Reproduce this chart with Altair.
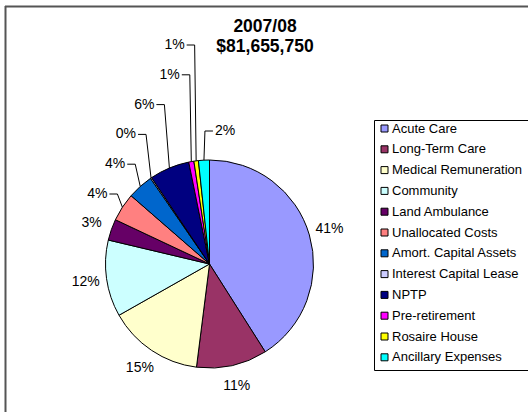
import altair as alt
import pandas as pd

# ---- data ----
categories = ["Acute Care", "Long-Term Care", "Medical Remuneration", "Community",
              "Land Ambulance", "Unallocated  Costs", "Amort. Capital Assets",
              "Interest Capital Lease", "NPTP", "Pre-retirement", "Rosaire House",
              "Ancillary Expenses"]
shares = [41.0, 11.0, 14.8, 11.9, 3.3, 4.4, 4.0, 0.2, 6.2, 0.8, 0.7, 1.7]
colors = ["#9999FF", "#993366", "#FFFFCC", "#CCFFFF", "#660066", "#FF8080",
          "#0066CC", "#CCCCFF", "#000080", "#FF00FF", "#FFFF00", "#00FFFF"]
title_lines = ["2007/08", "$81,655,750"]

# ---- layout constants ----
W, H = 528, 412
CX, CY, R = 209.5, 264, 104
FONT = "Liberation Sans"

df = pd.DataFrame({"idx": list(range(len(categories))), "category": categories, "value": shares})

base = alt.Chart(df).transform_window(
    cum="sum(value)", sort=[alt.SortField("idx")], frame=[None, 0]
).transform_joinaggregate(total="sum(value)").transform_calculate(
    mid="(datum.cum - datum.value/2)/datum.total",
    pct="format(round(100*datum.value/datum.total), 'd') + '%'",
).transform_calculate(
    a="datum.mid*2*PI",
    leader="datum.mid > 0.82 && datum.mid < 0.99",
    right="datum.mid >= 0.99",
).transform_window(
    rn="row_number()", groupby=["leader"], sort=[alt.SortField("idx")]
).transform_calculate(
    px=f"{CX} + {R}*sin(datum.a)",
    py=f"{CY} - {R}*cos(datum.a)",
).transform_calculate(
    ly=f"datum.leader ? {CY} - 70 - 29.8*(datum.rn-1) : (datum.right ? {CY - R - 29} : {CY} - 125*cos(datum.a))",
    ex=f"datum.leader ? datum.px - (datum.px < {CX} - 25 ? 5 : 1.5) : datum.px + 1",
).transform_calculate(
    hx="datum.leader ? datum.ex - 8 : datum.ex + 8",
    lx=f"datum.leader ? datum.ex - 10 : (datum.right ? datum.ex + 10 : {CX} + 125*sin(datum.a))",
)

pie = alt.Chart(df).mark_arc(outerRadius=R, stroke="black", strokeWidth=1).encode(
    theta=alt.Theta("value:Q", stack=True),
    color=alt.Color("category:N",
                    scale=alt.Scale(domain=categories, range=colors),
                    legend=alt.Legend(title=None, orient="none", legendX=373, legendY=117,
                                      symbolType="square", symbolSize=49,
                                      symbolStrokeColor="black", symbolStrokeWidth=1,
                                      labelFontSize=13, labelFont=FONT, labelColor="black",
                                      labelLimit=300, rowPadding=6.8, labelOffset=1,
                                      padding=5)),
    order=alt.Order("idx:Q"),
    x=alt.value(CX), y=alt.value(CY),
)

lead = base.transform_filter("datum.leader || datum.right")
seg1 = lead.mark_rule(color="black", strokeWidth=1).encode(
    x=alt.X("px:Q", scale=None), y=alt.Y("py:Q", scale=None),
    x2="ex:Q", y2="ly:Q")
seg2 = lead.mark_rule(color="black", strokeWidth=1).encode(
    x=alt.X("ex:Q", scale=None), y=alt.Y("ly:Q", scale=None),
    x2="hx:Q", y2="ly:Q")

lab_left = base.transform_filter("datum.leader").mark_text(
    align="right", baseline="middle", fontSize=14, font=FONT, color="black").encode(
    x=alt.X("lx:Q", scale=None), y=alt.Y("ly:Q", scale=None), text="pct:N")
lab_right = base.transform_filter("datum.right").mark_text(
    align="left", baseline="middle", fontSize=14, font=FONT, color="black").encode(
    x=alt.X("lx:Q", scale=None), y=alt.Y("ly:Q", scale=None), text="pct:N")
lab_out = base.transform_filter("!datum.leader && !datum.right").mark_text(
    align="center", baseline="middle", fontSize=14, font=FONT, color="black").encode(
    x=alt.X("lx:Q", scale=None), y=alt.Y("ly:Q", scale=None), text="pct:N")

one = pd.DataFrame({"t": [0]})
title = alt.Chart(one).mark_text(
    text=title_lines, fontSize=17.5, fontWeight="bold", font=FONT, color="black",
    align="center", baseline="middle", lineHeight=20).encode(
    x=alt.value(265), y=alt.value(27))
frame_l = alt.Chart(one).mark_rule(color="#555555", strokeWidth=2).encode(
    x=alt.value(5.5), y=alt.value(6), y2=alt.value(H))
frame_t = alt.Chart(one).mark_rule(color="#555555", strokeWidth=2).encode(
    x=alt.value(5), x2=alt.value(W), y=alt.value(6.5))
legend_box = alt.Chart(one).mark_rect(fill="white", stroke="black", strokeWidth=1).encode(
    x=alt.value(374.5), x2=alt.value(W + 5), y=alt.value(120.5), y2=alt.value(370.5))

chart = alt.layer(frame_l, frame_t, legend_box, pie, seg1, seg2, lab_left, lab_right, lab_out, title).properties(
    width=W, height=H, padding=0, autosize="none", background="white"
).configure_view(stroke=None)

chart.save("out.html", embed_options={"renderer": "svg", "actions": False})
